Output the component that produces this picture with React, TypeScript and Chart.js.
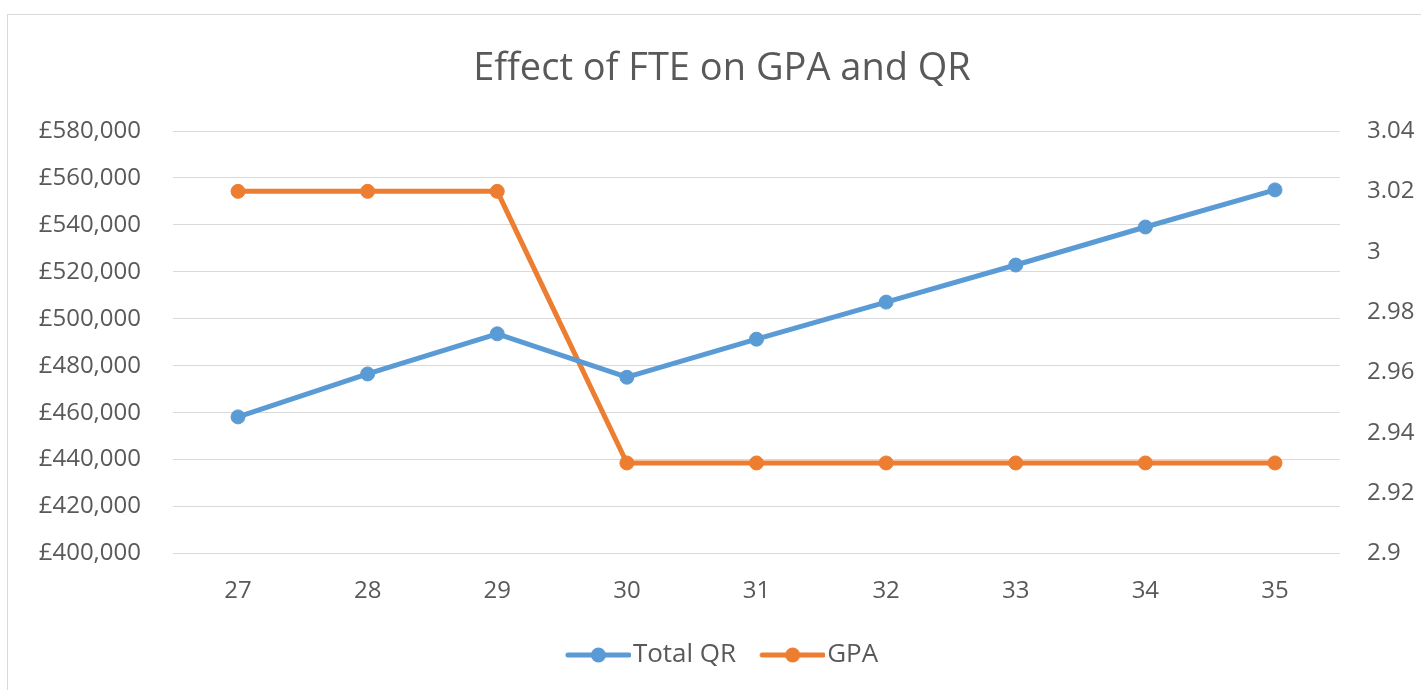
import React, { useEffect, useRef } from "react";
import { Chart, registerables } from "chart.js";

Chart.register(...registerables);

const categories = ["27", "28", "29", "30", "31", "32", "33", "34", "35"];
const totalQR = [458200, 476500, 493600, 475100, 491300, 507100, 522900, 539100, 554900];
const gpa = [3.02, 3.02, 3.02, 2.93, 2.93, 2.93, 2.93, 2.93, 2.93];
const leftTicks = [400000, 420000, 440000, 460000, 480000, 500000, 520000, 540000, 560000, 580000];
const rightTicks = [2.9, 2.92, 2.94, 2.96, 2.98, 3.0, 3.02, 3.04];

const BLUE = "#5B9BD5";
const ORANGE = "#ED7D31";
const TEXT = "#595959";
const GRID = "#D9D9D9";
const FONT = "'Open Sans', sans-serif";

const CW = 1428;
const CH = 676;

function legendImage(color: string): HTMLCanvasElement {
  const c = document.createElement("canvas");
  c.width = 76;
  c.height = 18;
  const ctx = c.getContext("2d")!;
  ctx.strokeStyle = color;
  ctx.lineWidth = 5;
  ctx.lineCap = "round";
  ctx.beginPath();
  ctx.moveTo(13, 9);
  ctx.lineTo(74, 9);
  ctx.stroke();
  ctx.fillStyle = color;
  ctx.beginPath();
  ctx.arc(43.5, 9, 7.5, 0, Math.PI * 2);
  ctx.fill();
  return c;
}

export default function App() {
  const ref = useRef<HTMLCanvasElement | null>(null);

  useEffect(() => {
    if (!ref.current) return;
    const imgs = [legendImage(BLUE), legendImage(ORANGE)];
    const chart = new Chart(ref.current, {
      type: "line",
      data: {
        labels: categories,
        datasets: [
          {
            label: "Total QR",
            data: totalQR,
            yAxisID: "y",
            borderColor: BLUE,
            backgroundColor: BLUE,
            borderWidth: 5,
            pointRadius: 7,
            pointBorderWidth: 1,
            pointBackgroundColor: BLUE,
            pointBorderColor: BLUE,
            tension: 0,
          },
          {
            label: "GPA",
            data: gpa,
            yAxisID: "y1",
            borderColor: ORANGE,
            backgroundColor: ORANGE,
            borderWidth: 5,
            pointRadius: 7,
            pointBorderWidth: 1,
            pointBackgroundColor: ORANGE,
            pointBorderColor: ORANGE,
            tension: 0,
          },
        ],
      },
      options: {
        responsive: false,
        animation: false,
        layout: { padding: { left: 0, right: 0, top: 0, bottom: 13 } },
        plugins: {
          tooltip: { enabled: false },
          title: {
            display: true,
            text: "Effect of FTE on GPA and QR",
            color: TEXT,
            font: { family: FONT, size: 38, weight: "normal", lineHeight: 1.2 },
            padding: { top: 31.2, bottom: 39.2 },
          },
          legend: {
            display: true,
            position: "bottom",
            labels: {
              color: TEXT,
              font: { family: FONT, size: 26 },
              usePointStyle: true,
              pointStyleWidth: 54,
              padding: 24,
              generateLabels: (ch: any) =>
                ch.data.datasets.map((ds: any, i: number) => ({
                  text: ds.label,
                  fillStyle: ds.borderColor,
                  strokeStyle: ds.borderColor,
                  lineWidth: 0,
                  pointStyle: imgs[i],
                  hidden: false,
                  datasetIndex: i,
                  fontColor: TEXT,
                })),
            },
          },
        },
        scales: {
          x: {
            type: "category",
            offset: true,
            grid: { display: false, drawTicks: false },
            border: { display: false },
            ticks: { color: TEXT, font: { family: FONT, size: 24 }, padding: 23.1, maxRotation: 0 },
            afterFit: (s: any) => {
              s.height = 64.5;
            },
          },
          y: {
            type: "linear",
            position: "left",
            min: 400000,
            max: 580000,
            grid: { color: GRID, lineWidth: 1, drawTicks: false },
            border: { display: false },
            afterBuildTicks: (s: any) => {
              s.ticks = leftTicks.map((v) => ({ value: v }));
            },
            ticks: {
              color: TEXT,
              font: { family: FONT, size: 24 },
              padding: 32.2,
              callback: (v: any) => "£" + Number(v).toLocaleString("en-GB"),
            },
            afterFit: (s: any) => {
              s.width = 165.2;
            },
          },
          y1: {
            type: "linear",
            position: "right",
            min: 2.9,
            max: 3.04,
            grid: { display: false, drawTicks: false },
            border: { display: false },
            afterBuildTicks: (s: any) => {
              s.ticks = rightTicks.map((v) => ({ value: v }));
            },
            ticks: {
              color: TEXT,
              font: { family: FONT, size: 24 },
              padding: 27.2,
              callback: (v: any) => String(Number(Number(v).toFixed(2))),
            },
            afterFit: (s: any) => {
              s.width = 96.2;
            },
          },
        },
      },
    } as any);
    return () => chart.destroy();
  }, []);

  return (
    <div
      style={{
        position: "absolute",
        left: 0,
        top: 0,
        width: 1421,
        height: 690,
        overflow: "hidden",
        background: "#fff",
      }}
    >
      <div
        style={{
          position: "absolute",
          left: 7,
          top: 14,
          width: CW + 2,
          height: CH + 2,
          border: `1px solid ${GRID}`,
          boxSizing: "border-box",
        }}
      >
        <canvas
          ref={ref}
          width={CW}
          height={CH}
          style={{ display: "block", width: CW, height: CH }}
        />
      </div>
    </div>
  );
}
